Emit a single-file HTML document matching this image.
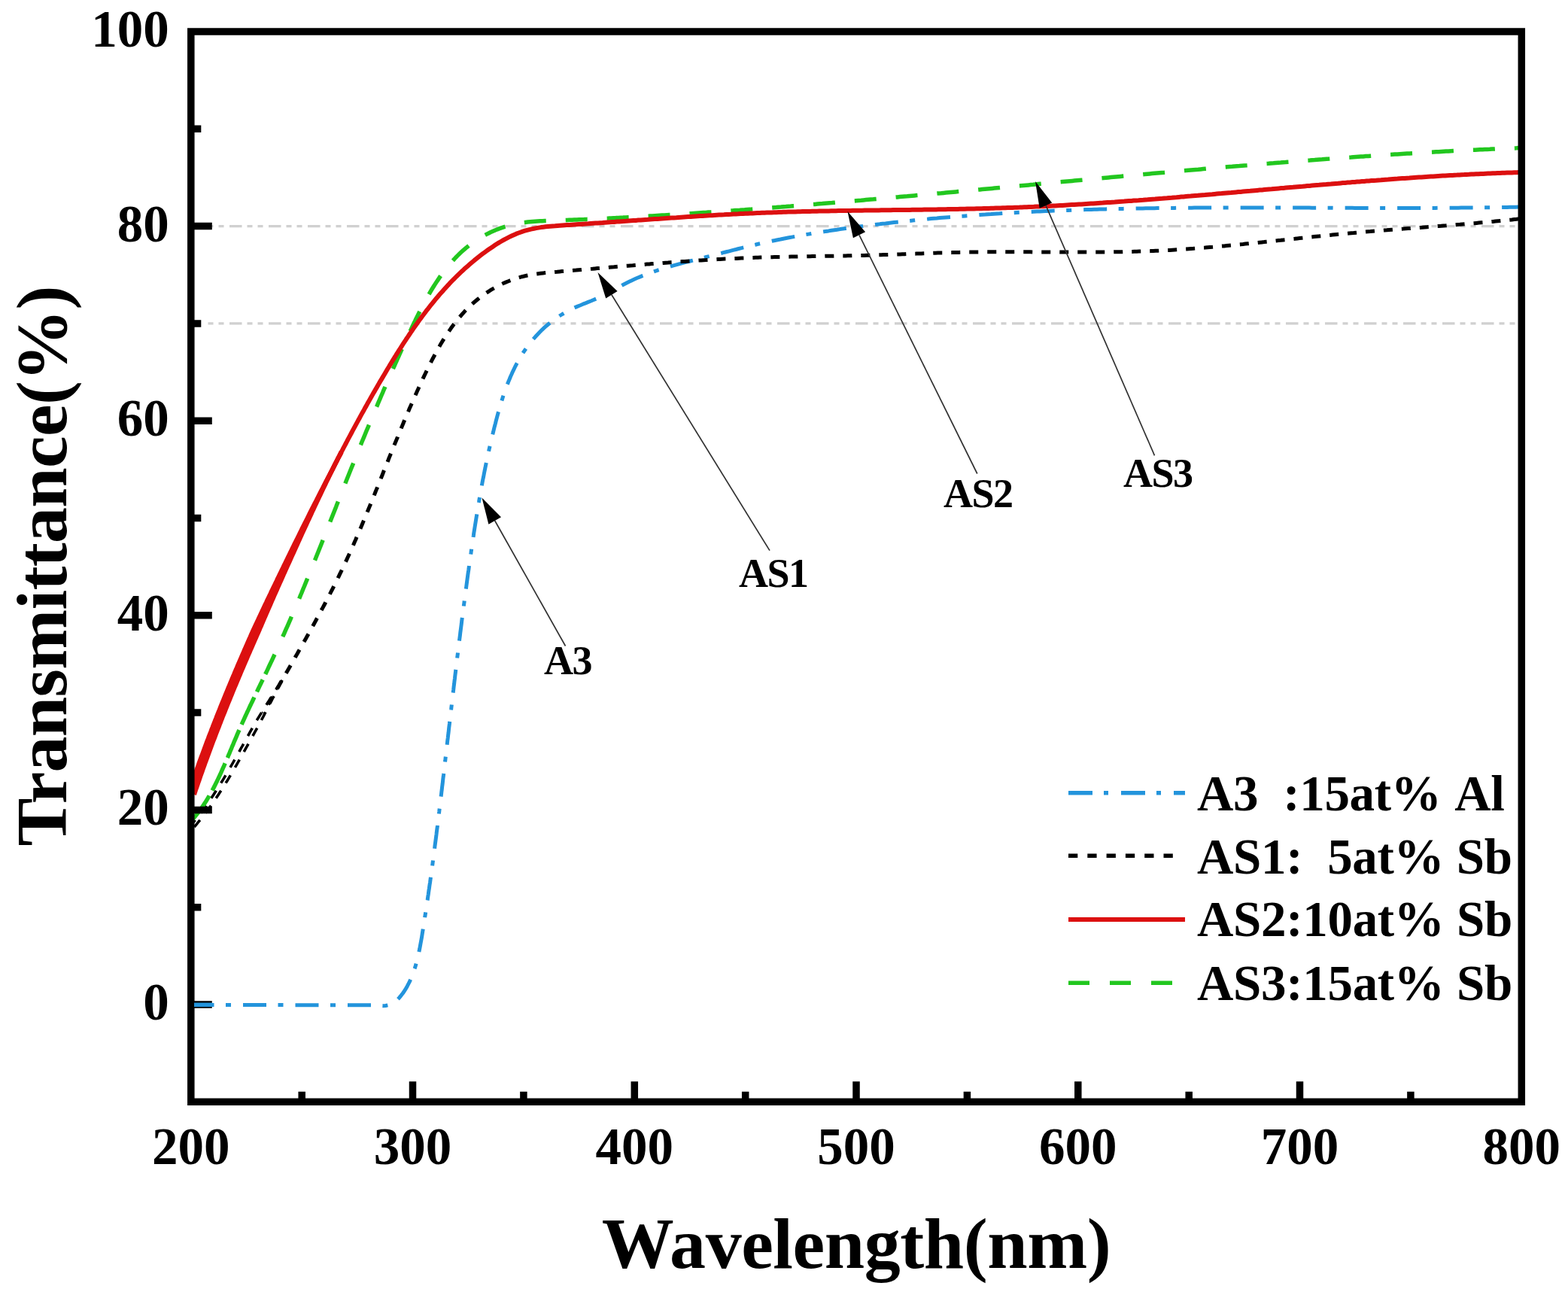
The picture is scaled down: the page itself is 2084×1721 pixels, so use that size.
<!DOCTYPE html>
<html><head><meta charset="utf-8"><title>Transmittance vs Wavelength</title>
<style>
html,body{margin:0;padding:0;background:#fff;}
body{width:2084px;height:1721px;overflow:hidden;}
svg{display:block;}
text{font-family:"Liberation Serif","Times New Roman",serif;font-weight:bold;fill:#000;}
.tl{font-size:69px;}
.at{font-size:96px;}
.lg{font-size:67px;letter-spacing:-0.3px;}
.an{font-size:54px;letter-spacing:-1.5px;}
</style></head>
<body>
<svg width="2084" height="1721" viewBox="0 0 2084 1721">
<rect width="2084" height="1721" fill="#fff"/>
<line x1="270" y1="300.6" x2="2018" y2="300.6" stroke="#d0d0d0" stroke-width="3.2" stroke-dasharray="16.5 7 7 7 7 7.5" stroke-dashoffset="17"/>
<line x1="270" y1="429.9" x2="2018" y2="429.9" stroke="#d0d0d0" stroke-width="3.2" stroke-dasharray="16.5 7 7 7 7 7.5" stroke-dashoffset="17"/>
<defs><clipPath id="pa"><rect x="254" y="41" width="1768" height="1422"/></clipPath></defs><g clip-path="url(#pa)">
<path d="M254.0,1335.4L500.0,1335.8L500.0,1335.8 504.5,1336.6 508.6,1336.8 512.5,1336.5 516.1,1335.7 519.5,1334.4 522.6,1332.8 525.5,1330.7 528.2,1328.4 530.7,1325.9 533.0,1323.1 535.2,1320.2 537.3,1317.2 539.3,1314.1 541.1,1310.9 542.8,1307.7 544.5,1304.4 546.0,1301.0 547.4,1297.6 548.8,1294.2 550.0,1290.6 551.2,1287.1 552.3,1283.5 553.3,1279.8 554.3,1276.1 555.2,1272.4 556.1,1268.6 556.9,1264.9 557.7,1261.1 558.4,1257.3 559.1,1253.4 559.8,1249.6 560.5,1245.7 561.1,1241.9 561.7,1238.0 562.3,1234.2 563.0,1230.3 563.6,1226.5 564.2,1222.7 564.7,1218.8 565.3,1215.0 565.9,1211.2 566.5,1207.4 567.1,1203.6 567.6,1199.7 568.2,1195.9 568.7,1192.1 569.3,1188.3 569.8,1184.5 570.4,1180.7 570.9,1176.9 571.5,1173.1 572.0,1169.4 572.5,1165.6 573.0,1161.8 573.6,1158.0 574.1,1154.2 574.6,1150.5 575.1,1146.7 575.6,1142.9 576.1,1139.1 576.6,1135.4 577.1,1131.6 577.6,1127.8 578.0,1124.1 578.5,1120.3 579.0,1116.6 579.5,1112.8 580.0,1109.0 580.4,1105.3 580.9,1101.5 581.4,1097.8 581.8,1094.0 582.3,1090.2 582.8,1086.5 583.2,1082.7 583.7,1079.0 584.1,1075.2 584.6,1071.5 585.0,1067.7 585.5,1063.9 585.9,1060.2 586.4,1056.4 586.8,1052.7 587.3,1048.9 587.7,1045.1 588.2,1041.4 588.6,1037.6 589.0,1033.8 589.5,1030.1 589.9,1026.3 590.4,1022.5 590.8,1018.8 591.2,1015.0 591.7,1011.2 592.1,1007.4 592.6,1003.6 593.0,999.9 593.4,996.1 593.9,992.3 594.3,988.5 594.7,984.7 595.2,981.0 595.6,977.2 596.1,973.4 596.5,969.6 596.9,965.8 597.4,962.0 597.8,958.2 598.3,954.4 598.7,950.6 599.1,946.8 599.6,943.1 600.0,939.3 600.5,935.5 600.9,931.7 601.3,927.9 601.8,924.1 602.2,920.3 602.7,916.5 603.1,912.7 603.6,908.9 604.0,905.1 604.5,901.3 604.9,897.5 605.4,893.7 605.8,889.9 606.3,886.1 606.7,882.3 607.2,878.5 607.6,874.7 608.1,870.9 608.6,867.1 609.0,863.3 609.5,859.5 610.0,855.7 610.4,852.0 610.9,848.2 611.4,844.4 611.8,840.6 612.3,836.8 612.8,833.0 613.3,829.2 613.7,825.4 614.2,821.6 614.7,817.8 615.2,814.0 615.7,810.2 616.2,806.5 616.7,802.7 617.2,798.9 617.6,795.1 618.1,791.3 618.6,787.5 619.2,783.7 619.7,780.0 620.2,776.2 620.7,772.4 621.2,768.6 621.7,764.9 622.2,761.1 622.8,757.3 623.3,753.5 623.8,749.8 624.3,746.0 624.9,742.2 625.4,738.5 626.0,734.7 626.5,730.9 627.0,727.2 627.6,723.4 628.1,719.7 628.7,715.9 629.3,712.1 629.8,708.4 630.4,704.6 631.0,700.9 631.6,697.1 632.2,693.4 632.8,689.6 633.4,685.9 634.0,682.1 634.6,678.4 635.2,674.7 635.8,670.9 636.5,667.2 637.1,663.4 637.8,659.7 638.4,656.0 639.1,652.2 639.8,648.5 640.4,644.8 641.1,641.0 641.8,637.3 642.6,633.6 643.3,629.8 644.0,626.1 644.8,622.4 645.5,618.7 646.3,614.9 647.1,611.2 647.9,607.5 648.7,603.7 649.5,600.0 650.3,596.3 651.2,592.6 652.0,588.8 652.9,585.1 653.8,581.4 654.6,577.7 655.6,574.0 656.5,570.2 657.4,566.5 658.4,562.8 659.3,559.1 660.3,555.3 661.3,551.6 662.3,547.9 663.4,544.2 664.5,540.5 665.6,536.8 666.7,533.1 667.8,529.5 669.0,525.8 670.2,522.2 671.5,518.5 672.8,514.9 674.1,511.4 675.5,507.8 677.0,504.3 678.4,500.8 680.0,497.3 681.5,493.8 683.2,490.4 684.8,487.0 686.6,483.6 688.4,480.3 690.2,477.0 692.2,473.8 694.1,470.6 696.2,467.4 698.3,464.3 700.5,461.2 702.8,458.1 705.1,455.1 707.5,452.2 710.0,449.3 712.5,446.5 715.1,443.7 717.7,441.0 720.4,438.3 723.2,435.7 726.0,433.2 728.9,430.8 731.8,428.4 734.8,426.0 737.9,423.8 741.0,421.6 744.2,419.5 747.4,417.5 750.6,415.6 753.9,413.7 757.3,411.9 760.7,410.2 764.2,408.6 767.7,407.1 771.2,405.7 774.7,404.2 778.3,402.8 781.8,401.4 785.4,400.0 788.9,398.5 792.4,397.0 795.9,395.4 799.3,393.7 802.7,392.0 806.1,390.3 809.4,388.5 812.8,386.7 816.1,384.9 819.5,383.1 822.8,381.3 826.2,379.5 829.5,377.7 832.9,376.0 836.3,374.3 839.7,372.7 843.2,371.1 846.6,369.5 850.1,368.1 853.6,366.6 857.2,365.3 860.7,363.9 864.3,362.6 867.8,361.4 871.4,360.1 875.0,358.9 878.7,357.8 882.3,356.6 885.9,355.5 889.6,354.5 893.3,353.4 896.9,352.4 900.6,351.4 904.3,350.4 908.0,349.4 911.7,348.4 915.4,347.5 919.1,346.5 922.8,345.6 926.5,344.7 930.2,343.7 933.9,342.8 937.6,341.8 941.3,340.9 945.0,340.0 948.7,339.0 952.3,338.1 956.0,337.1 959.7,336.2 963.4,335.2 967.1,334.3 970.8,333.3 974.4,332.4 978.1,331.5 981.8,330.5 985.5,329.6 989.2,328.7 992.8,327.8 996.5,326.9 1000.2,326.0 1003.9,325.2 1007.6,324.3 1011.3,323.5 1015.0,322.6 1018.8,321.8 1022.5,321.0 1026.2,320.2 1029.9,319.5 1033.6,318.7 1037.4,318.0 1041.1,317.2 1044.8,316.5 1048.6,315.8 1052.3,315.1 1056.1,314.4 1059.8,313.7 1063.6,313.0 1067.3,312.4 1071.1,311.7 1074.8,311.1 1078.6,310.4 1082.4,309.8 1086.1,309.2 1089.9,308.6 1093.7,308.0 1097.4,307.4 1101.2,306.9 1105.0,306.3 1108.8,305.7 1112.5,305.2 1116.3,304.6 1120.1,304.1 1123.9,303.6 1127.7,303.1 1131.5,302.5 1135.2,302.0 1139.0,301.5 1142.8,301.0 1146.6,300.6 1150.4,300.1 1154.2,299.6 1157.9,299.1 1161.7,298.7 1165.5,298.2 1169.3,297.8 1173.1,297.3 1176.9,296.9 1180.7,296.4 1184.5,296.0 1188.2,295.6 1192.0,295.2 1195.8,294.8 1199.6,294.4 1203.4,294.0 1207.2,293.6 1211.0,293.2 1214.8,292.8 1218.6,292.4 1222.4,292.1 1226.2,291.7 1229.9,291.3 1233.7,291.0 1237.5,290.6 1241.3,290.3 1245.1,290.0 1248.9,289.6 1252.7,289.3 1256.5,289.0 1260.3,288.7 1264.1,288.4 1267.9,288.0 1271.7,287.7 1275.5,287.4 1279.3,287.2 1283.1,286.9 1286.9,286.6 1290.7,286.3 1294.5,286.0 1298.3,285.8 1302.1,285.5 1305.9,285.2 1309.7,285.0 1313.5,284.7 1317.3,284.5 1321.1,284.2 1324.9,284.0 1328.7,283.8 1332.5,283.5 1336.3,283.3 1340.1,283.1 1343.9,282.9 1347.7,282.7 1351.5,282.5 1355.3,282.3 1359.1,282.1 1362.9,281.9 1366.7,281.7 1370.5,281.5 1374.3,281.3 1378.1,281.1 1381.9,281.0 1385.7,280.8 1389.5,280.6 1393.3,280.5 1397.1,280.3 1400.9,280.1 1404.7,280.0 1408.5,279.8 1412.3,279.7 1416.1,279.5 1419.9,279.4 1423.7,279.3 1427.5,279.1 1431.3,279.0 1435.2,278.9 1439.0,278.8 1442.8,278.6 1446.6,278.5 1450.4,278.4 1454.2,278.3 1458.0,278.2 1461.8,278.1 1465.6,278.0 1469.4,277.9 1473.2,277.8 1477.0,277.7 1480.8,277.6 1484.6,277.5 1488.5,277.5 1492.3,277.4 1496.1,277.3 1499.9,277.2 1503.7,277.2 1507.5,277.1 1511.3,277.0 1515.1,277.0 1518.9,276.9 1522.7,276.8 1526.5,276.8 1530.4,276.7 1534.2,276.7 1538.0,276.6 1541.8,276.6 1545.6,276.5 1549.4,276.5 1553.2,276.4 1557.0,276.4 1560.8,276.4 1564.7,276.3 1568.5,276.3 1572.3,276.2 1576.1,276.2 1579.9,276.2 1583.7,276.2 1587.5,276.1 1591.3,276.1 1595.1,276.1 1599.0,276.1 1602.8,276.1 1606.6,276.0 1610.4,276.0 1614.2,276.0 1618.0,276.0 1621.8,276.0 1625.6,276.0 1629.5,276.0 1633.3,276.0 1637.1,276.0 1640.9,276.0 1644.7,275.9 1648.5,275.9 1652.3,275.9 1656.1,275.9 1660.0,275.9 1663.8,275.9 1667.6,276.0 1671.4,276.0 1675.2,276.0 1679.0,276.0 1682.8,276.0 1686.6,276.0 1690.5,276.0 1694.3,276.0 1698.1,276.0 1701.9,276.0 1705.7,276.0 1709.5,276.0 1713.3,276.0 1717.1,276.1 1721.0,276.1 1724.8,276.1 1728.6,276.1 1732.4,276.1 1736.2,276.1 1740.0,276.1 1743.8,276.2 1747.7,276.2 1751.5,276.2 1755.3,276.2 1759.1,276.2 1762.9,276.2 1766.7,276.2 1770.5,276.2 1774.3,276.3 1778.2,276.3 1782.0,276.3 1785.8,276.3 1789.6,276.3 1793.4,276.3 1797.2,276.3 1801.0,276.4 1804.8,276.4 1808.7,276.4 1812.5,276.4 1816.3,276.4 1820.1,276.4 1823.9,276.4 1827.7,276.4 1831.5,276.4 1835.3,276.4 1839.2,276.4 1843.0,276.4 1846.8,276.4 1850.6,276.4 1854.4,276.5 1858.2,276.5 1862.0,276.5 1865.8,276.4 1869.6,276.4 1873.5,276.4 1877.3,276.4 1881.1,276.4 1884.9,276.4 1888.7,276.4 1892.5,276.4 1896.3,276.4 1900.1,276.4 1903.9,276.4 1907.8,276.4 1911.6,276.3 1915.4,276.3 1919.2,276.3 1923.0,276.3 1926.8,276.3 1930.6,276.2 1934.4,276.2 1938.2,276.2 1942.0,276.1 1945.9,276.1 1949.7,276.1 1953.5,276.0 1957.3,276.0 1961.1,276.0 1964.9,275.9 1968.7,275.9 1972.5,275.8 1976.3,275.8 1980.1,275.7 1983.9,275.7 1987.7,275.6 1991.5,275.6 1995.4,275.5 1999.2,275.4 2003.0,275.4 2006.8,275.3 2010.6,275.2 2014.4,275.2 2018.2,275.1 2022.0,275.0" fill="none" stroke="#2394dc" stroke-width="5" stroke-dasharray="31 15.5 7 16" stroke-dashoffset="0.5" stroke-linejoin="round"/>
<path d="M349.7,947.7L351.3,944.9 352.9,942.2 354.4,939.5 356.0,936.7 357.6,934.0 359.1,931.3 360.7,928.5 362.3,925.8 363.9,923.1 365.4,920.3 367.0,917.6 368.6,914.8 370.2,912.1 371.7,909.4 373.3,906.6 374.9,903.9 376.5,901.2 378.1,898.4 379.6,895.7 381.2,893.0 382.8,890.2 384.4,887.5 386.0,884.7 387.5,882.0 389.1,879.3 390.7,876.5 392.2,873.8 393.8,871.0 395.4,868.3 396.9,865.5 398.5,862.8 400.1,860.0 401.6,857.3 403.2,854.6 404.7,851.8 406.3,849.0 407.8,846.3 409.4,843.5 410.9,840.8 412.4,838.0 414.0,835.3 415.5,832.5 417.0,829.7 418.5,827.0 420.0,824.2 421.5,821.4 423.0,818.7 424.5,815.9 426.0,813.1 427.5,810.3 429.0,807.6 430.5,804.8 432.0,802.0 433.4,799.2 434.9,796.4 436.3,793.6 437.8,790.8 439.2,788.0 440.6,785.2 442.1,782.4 443.5,779.6 444.9,776.8 446.3,774.0 447.7,771.2 449.1,768.4 450.4,765.6 451.8,762.7 453.2,759.9 454.5,757.1 455.9,754.2 457.2,751.4 458.5,748.6 459.9,745.7 461.2,742.9 462.5,740.0 463.8,737.2 465.1,734.3 466.4,731.5 467.6,728.6 468.9,725.8 470.2,722.9 471.4,720.0 472.7,717.2 473.9,714.3 475.2,711.4 476.4,708.5 477.6,705.7 478.9,702.8 480.1,699.9 481.3,697.0 482.5,694.1 483.7,691.2 484.9,688.3 486.1,685.5 487.3,682.6 488.5,679.7 489.7,676.8 490.9,673.9 492.1,671.0 493.3,668.1 494.4,665.2 495.6,662.3 496.8,659.4 498.0,656.4 499.1,653.5 500.3,650.6 501.5,647.7 502.6,644.8 503.8,641.9 505.0,639.0 506.1,636.1 507.3,633.2 508.5,630.2 509.6,627.3 510.8,624.4 512.0,621.5 513.1,618.6 514.3,615.7 515.5,612.8 516.6,609.8 517.8,606.9 519.0,604.0 520.2,601.1 521.3,598.2 522.5,595.2 523.7,592.3 524.9,589.4 526.1,586.5 527.3,583.6 528.5,580.7 529.6,577.7 530.8,574.8 532.1,571.9 533.3,569.0 534.5,566.1 535.7,563.2 536.9,560.3 538.1,557.4 539.4,554.4 540.6,551.5 541.8,548.6 543.1,545.7 544.3,542.8 545.6,539.9 546.9,537.0 548.1,534.1 549.4,531.2 550.7,528.3 552.0,525.4 553.3,522.5 554.6,519.6 555.9,516.7 557.2,513.8 558.5,510.9 559.9,508.0 561.2,505.2 562.5,502.3 563.9,499.4 565.3,496.5 566.7,493.6 568.0,490.8 569.5,487.9 570.9,485.1 572.3,482.2 573.7,479.4 575.2,476.5 576.7,473.7 578.2,470.9 579.7,468.1 581.2,465.4 582.8,462.6 584.3,459.9 585.9,457.1 587.5,454.4 589.2,451.7 590.8,449.1 592.5,446.4 594.2,443.8 596.0,441.2 597.8,438.6 599.5,436.1 601.4,433.5 603.2,431.0 605.1,428.6 607.0,426.1 609.0,423.7 611.0,421.3 613.0,419.0 615.0,416.7 617.1,414.4 619.2,412.1 621.4,409.9 623.6,407.8 625.8,405.6 628.1,403.5 630.4,401.5 632.8,399.5 635.2,397.5 637.6,395.5 640.1,393.7 642.6,391.8 645.2,390.0 647.8,388.3 650.5,386.6 653.1,384.9 655.9,383.3 658.6,381.8 661.4,380.3 664.2,378.8 667.1,377.5 669.9,376.1 672.8,374.9 675.8,373.7 678.7,372.5 681.7,371.4 684.7,370.4 687.7,369.5 690.7,368.6 693.7,367.7 696.8,367.0 699.9,366.3 702.9,365.7 706.0,365.1 709.1,364.6 712.2,364.1 715.4,363.7 718.5,363.3 721.6,362.9 724.8,362.6 727.9,362.3 731.1,362.0 734.2,361.7 737.4,361.4 740.5,361.2 743.7,360.9 746.8,360.6 749.9,360.4 753.1,360.1 756.2,359.9 759.4,359.6 762.5,359.3 765.7,359.1 768.8,358.8 772.0,358.5 775.1,358.2 778.2,358.0 781.4,357.7 784.5,357.4 787.6,357.2 790.8,356.9 793.9,356.6 797.1,356.4 800.2,356.1 803.3,355.8 806.5,355.6 809.6,355.3 812.7,355.0 815.9,354.8 819.0,354.5 822.1,354.2 825.3,354.0 828.4,353.7 831.5,353.4 834.7,353.2 837.8,352.9 840.9,352.7 844.1,352.4 847.2,352.1 850.3,351.9 853.5,351.6 856.6,351.4 859.7,351.1 862.9,350.9 866.0,350.6 869.1,350.4 872.3,350.1 875.4,349.9 878.5,349.7 881.7,349.4 884.8,349.2 887.9,349.0 891.1,348.7 894.2,348.5 897.3,348.3 900.5,348.0 903.6,347.8 906.8,347.6 909.9,347.4 913.0,347.2 916.2,347.0 919.3,346.8 922.5,346.5 925.6,346.3 928.7,346.1 931.9,345.9 935.0,345.7 938.2,345.6 941.3,345.4 944.4,345.2 947.6,345.0 950.7,344.8 953.9,344.6 957.0,344.5 960.1,344.3 963.3,344.1 966.4,344.0 969.6,343.8 972.7,343.7 975.9,343.5 979.0,343.4 982.2,343.2 985.3,343.1 988.4,343.0 991.6,342.8 994.7,342.7 997.9,342.6 1001.0,342.5 1004.2,342.3 1007.3,342.2 1010.5,342.1 1013.6,342.0 1016.8,341.9 1019.9,341.8 1023.0,341.8 1026.2,341.7 1029.3,341.6 1032.5,341.5 1035.6,341.4 1038.8,341.4 1041.9,341.3 1045.1,341.2 1048.2,341.2 1051.4,341.1 1054.5,341.0 1057.7,341.0 1060.8,340.9 1064.0,340.9 1067.1,340.8 1070.3,340.8 1073.4,340.7 1076.6,340.7 1079.7,340.6 1082.8,340.6 1086.0,340.5 1089.1,340.5 1092.3,340.4 1095.4,340.4 1098.6,340.3 1101.7,340.3 1104.9,340.2 1108.0,340.2 1111.2,340.1 1114.3,340.1 1117.5,340.0 1120.6,340.0 1123.8,339.9 1126.9,339.8 1130.1,339.8 1133.2,339.7 1136.4,339.6 1139.5,339.6 1142.6,339.5 1145.8,339.4 1148.9,339.4 1152.1,339.3 1155.2,339.2 1158.4,339.1 1161.5,339.0 1164.7,338.9 1167.8,338.8 1171.0,338.7 1174.1,338.6 1177.2,338.5 1180.4,338.4 1183.5,338.3 1186.7,338.2 1189.8,338.1 1193.0,338.0 1196.1,337.9 1199.3,337.8 1202.4,337.7 1205.5,337.5 1208.7,337.4 1211.8,337.3 1215.0,337.2 1218.1,337.1 1221.3,337.0 1224.4,336.9 1227.6,336.8 1230.7,336.7 1233.8,336.6 1237.0,336.4 1240.1,336.3 1243.3,336.2 1246.4,336.1 1249.6,336.0 1252.7,336.0 1255.9,335.9 1259.0,335.8 1262.1,335.7 1265.3,335.6 1268.4,335.5 1271.6,335.4 1274.7,335.4 1277.9,335.3 1281.0,335.2 1284.2,335.2 1287.3,335.1 1290.5,335.1 1293.6,335.0 1296.8,335.0 1299.9,334.9 1303.0,334.9 1306.2,334.9 1309.3,334.8 1312.5,334.8 1315.6,334.8 1318.8,334.8 1321.9,334.8 1325.1,334.8 1328.2,334.8 1331.4,334.7 1334.5,334.7 1337.7,334.7 1340.8,334.7 1344.0,334.7 1347.1,334.8 1350.3,334.8 1353.4,334.8 1356.6,334.8 1359.7,334.8 1362.9,334.8 1366.0,334.8 1369.2,334.8 1372.3,334.9 1375.5,334.9 1378.6,334.9 1381.8,334.9 1384.9,334.9 1388.1,334.9 1391.2,335.0 1394.4,335.0 1397.5,335.0 1400.6,335.0 1403.8,335.0 1406.9,335.0 1410.1,335.1 1413.2,335.1 1416.4,335.1 1419.5,335.1 1422.7,335.1 1425.8,335.1 1429.0,335.1 1432.1,335.1 1435.3,335.1 1438.4,335.1 1441.6,335.1 1444.7,335.1 1447.9,335.1 1451.0,335.1 1454.2,335.1 1457.3,335.1 1460.5,335.1 1463.6,335.0 1466.8,335.0 1469.9,335.0 1473.1,335.0 1476.2,334.9 1479.3,334.9 1482.5,334.8 1485.6,334.8 1488.8,334.7 1491.9,334.7 1495.1,334.6 1498.2,334.6 1501.4,334.5 1504.5,334.4 1507.7,334.3 1510.8,334.2 1513.9,334.1 1517.1,334.0 1520.2,333.9 1523.4,333.8 1526.5,333.7 1529.7,333.6 1532.8,333.5 1535.9,333.3 1539.1,333.2 1542.2,333.0 1545.4,332.9 1548.5,332.7 1551.6,332.5 1554.8,332.4 1557.9,332.2 1561.1,332.0 1564.2,331.8 1567.3,331.6 1570.5,331.4 1573.6,331.2 1576.8,331.0 1579.9,330.7 1583.0,330.5 1586.2,330.3 1589.3,330.0 1592.5,329.8 1595.6,329.6 1598.7,329.3 1601.9,329.1 1605.0,328.8 1608.1,328.5 1611.3,328.3 1614.4,328.0 1617.6,327.7 1620.7,327.4 1623.8,327.1 1627.0,326.9 1630.1,326.6 1633.2,326.3 1636.4,326.0 1639.5,325.7 1642.6,325.4 1645.8,325.1 1648.9,324.8 1652.0,324.5 1655.2,324.1 1658.3,323.8 1661.4,323.5 1664.6,323.2 1667.7,322.9 1670.8,322.6 1674.0,322.2 1677.1,321.9 1680.3,321.6 1683.4,321.2 1686.5,320.9 1689.7,320.6 1692.8,320.3 1695.9,319.9 1699.1,319.6 1702.2,319.3 1705.3,318.9 1708.5,318.6 1711.6,318.3 1714.7,317.9 1717.9,317.6 1721.0,317.3 1724.1,316.9 1727.3,316.6 1730.4,316.3 1733.5,316.0 1736.7,315.6 1739.8,315.3 1742.9,315.0 1746.1,314.6 1749.2,314.3 1752.3,314.0 1755.5,313.7 1758.6,313.4 1761.7,313.1 1764.9,312.7 1768.0,312.4 1771.1,312.1 1774.3,311.8 1777.4,311.5 1780.5,311.2 1783.7,310.9 1786.8,310.6 1789.9,310.3 1793.1,310.0 1796.2,309.7 1799.3,309.5 1802.5,309.2 1805.6,308.9 1808.8,308.6 1811.9,308.4 1815.0,308.1 1818.2,307.8 1821.3,307.6 1824.4,307.3 1827.6,307.0 1830.7,306.8 1833.8,306.5 1837.0,306.3 1840.1,306.0 1843.2,305.8 1846.4,305.5 1849.5,305.3 1852.7,305.1 1855.8,304.8 1858.9,304.6 1862.1,304.3 1865.2,304.1 1868.3,303.8 1871.5,303.6 1874.6,303.4 1877.7,303.1 1880.9,302.9 1884.0,302.7 1887.2,302.4 1890.3,302.2 1893.4,301.9 1896.6,301.7 1899.7,301.5 1902.8,301.2 1906.0,301.0 1909.1,300.7 1912.3,300.5 1915.4,300.3 1918.5,300.0 1921.7,299.8 1924.8,299.5 1927.9,299.3 1931.1,299.0 1934.2,298.8 1937.3,298.5 1940.5,298.3 1943.6,298.0 1946.8,297.7 1949.9,297.5 1953.0,297.2 1956.2,296.9 1959.3,296.7 1962.4,296.4 1965.6,296.1 1968.7,295.8 1971.8,295.6 1975.0,295.3 1978.1,295.0 1981.3,294.7 1984.4,294.4 1987.5,294.1 1990.7,293.8 1993.8,293.5 1996.9,293.2 2000.1,292.8 2003.2,292.5 2006.3,292.2 2009.5,291.9 2012.6,291.5 2015.7,291.2 2018.9,290.8 2022.0,290.5" fill="none" stroke="#000" stroke-width="5" stroke-dasharray="12 12" stroke-dashoffset="10.85" stroke-linejoin="round"/>
<path d="M251.8,1099.0L253.9,1096.6 255.9,1094.2 257.9,1091.7 259.9,1089.3 261.9,1086.8 263.8,1084.3 265.7,1081.8 267.6,1079.3 269.5,1076.8 271.3,1074.3 273.2,1071.7 275.0,1069.2 276.8,1066.6 278.6,1064.0 280.3,1061.4 282.1,1058.8 283.8,1056.2 285.5,1053.6 287.2,1051.0 288.9,1048.4 290.5,1045.7 292.2,1043.1 293.8,1040.4 295.5,1037.7 297.1,1035.1 298.7,1032.4 300.3,1029.7 301.9,1027.0 303.5,1024.3 305.0,1021.6 306.6,1018.9 308.2,1016.2 309.7,1013.5 311.3,1010.7 312.8,1008.0 314.3,1005.3 315.9,1002.5 317.4,999.8 318.9,997.1 320.4,994.3 322.0,991.6 323.5,988.8 325.0,986.1 326.5,983.4 328.0,980.6 329.6,977.9 331.1,975.1 332.6,972.4 334.2,969.6 335.7,966.9 337.2,964.1 338.8,961.4 340.4,958.6 342.1,955.9 343.8,953.2 345.5,950.4 347.2,947.7 348.9,944.9 350.6,942.2 352.3,939.5 354.0,936.7 355.7,934.0 357.5,931.3 359.2,928.5 360.9,925.8 362.6,923.1 364.3,920.3 366.1,917.6 367.8,914.8 369.5,912.1 371.2,909.4 373.0,906.6 374.7,903.9 376.4,901.2 378.1,898.4" fill="none" stroke="#000" stroke-width="3.6" stroke-dasharray="12 12" stroke-linejoin="round"/>
<path d="M258.2,1099.0L260.3,1096.6 262.3,1094.2 264.3,1091.7 266.3,1089.3 268.3,1086.8 270.2,1084.3 272.1,1081.8 274.0,1079.3 275.9,1076.8 277.7,1074.3 279.6,1071.7 281.4,1069.2 283.2,1066.6 285.0,1064.0 286.7,1061.4 288.5,1058.8 290.2,1056.2 291.9,1053.6 293.6,1051.0 295.3,1048.4 296.9,1045.7 298.6,1043.1 300.2,1040.4 301.9,1037.7 303.5,1035.1 305.1,1032.4 306.7,1029.7 308.3,1027.0 309.9,1024.3 311.4,1021.6 313.0,1018.9 314.6,1016.2 316.1,1013.5 317.7,1010.7 319.2,1008.0 320.7,1005.3 322.3,1002.5 323.8,999.8 325.3,997.1 326.8,994.3 328.4,991.6 329.9,988.8 331.4,986.1 332.9,983.4 334.4,980.6 336.0,977.9 337.5,975.1 339.0,972.4 340.6,969.6 342.1,966.9 343.6,964.1 345.2,961.4 346.6,958.6 348.0,955.9 349.5,953.2 350.9,950.4 352.3,947.7 353.7,944.9 355.1,942.2 356.5,939.5 357.9,936.7 359.4,934.0 360.8,931.3 362.2,928.5 363.7,925.8 365.1,923.1 366.5,920.3 367.9,917.6 369.4,914.8 370.8,912.1 372.2,909.4 373.7,906.6 375.1,903.9 376.5,901.2 378.1,898.4" fill="none" stroke="#000" stroke-width="3.6" stroke-dasharray="12 12" stroke-linejoin="round"/>
<path d="M255.0,1090.0L257.2,1087.6 259.3,1085.1 261.3,1082.6 263.3,1080.1 265.2,1077.5 267.1,1074.9 268.9,1072.2 270.7,1069.6 272.5,1066.9 274.2,1064.2 275.9,1061.4 277.5,1058.7 279.1,1055.9 280.7,1053.1 282.2,1050.3 283.7,1047.4 285.2,1044.6 286.6,1041.7 288.1,1038.8 289.5,1035.9 290.9,1033.0 292.2,1030.1 293.6,1027.1 294.9,1024.2 296.2,1021.2 297.6,1018.2 298.8,1015.3 300.1,1012.3 301.4,1009.3 302.7,1006.3 303.9,1003.3 305.2,1000.3 306.4,997.3 307.7,994.3 308.9,991.3 310.2,988.3 311.4,985.3 312.7,982.3 314.0,979.3 315.2,976.4 316.5,973.4 317.8,970.4 319.1,967.4 320.4,964.5 321.7,961.5 323.0,958.6 324.4,955.6 325.7,952.7 327.1,949.7 328.4,946.8 329.8,943.9 331.1,941.0 332.5,938.0 333.9,935.1 335.3,932.2 336.7,929.3 338.0,926.4 339.4,923.5 340.8,920.6 342.2,917.7 343.6,914.8 345.0,911.9 346.4,909.0 347.8,906.1 349.2,903.2" fill="none" stroke="#22c71f" stroke-width="5.5" stroke-dasharray="40 8" stroke-linejoin="round"/>
<path d="M349.2,903.2L350.6,900.3 352.0,897.4 353.4,894.5 354.8,891.6 356.2,888.6 357.5,885.7 358.9,882.8 360.3,879.9 361.7,877.0 363.0,874.1 364.4,871.1 365.8,868.2 367.1,865.3 368.5,862.3 369.8,859.4 371.1,856.4 372.5,853.5 373.8,850.5 375.1,847.6 376.4,844.6 377.8,841.7 379.1,838.7 380.4,835.7 381.7,832.8 383.0,829.8 384.3,826.8 385.6,823.9 386.8,820.9 388.1,817.9 389.4,814.9 390.7,811.9 391.9,808.9 393.2,806.0 394.5,803.0 395.7,800.0 397.0,797.0 398.3,794.0 399.5,791.0 400.8,788.0 402.0,785.0 403.2,782.0 404.5,779.0 405.7,776.0 406.9,773.0 408.2,769.9 409.4,766.9 410.6,763.9 411.9,760.9 413.1,757.9 414.3,754.9 415.5,751.9 416.7,748.8 417.9,745.8 419.2,742.8 420.4,739.8 421.6,736.8 422.8,733.8 424.0,730.7 425.2,727.7 426.4,724.7 427.6,721.7 428.8,718.7 430.0,715.6 431.2,712.6 432.4,709.6 433.6,706.6 434.8,703.6 436.0,700.5 437.1,697.5 438.3,694.5 439.5,691.5 440.7,688.5 441.9,685.4 443.1,682.4 444.3,679.4 445.5,676.4 446.7,673.4 447.8,670.4 449.0,667.4 450.2,664.3 451.4,661.3 452.6,658.3 453.8,655.3 455.0,652.3 456.2,649.3 457.3,646.3 458.5,643.3 459.7,640.3 460.9,637.3 462.1,634.3 463.3,631.3 464.5,628.3 465.7,625.3 466.9,622.3 468.1,619.4 469.3,616.4 470.5,613.4 471.7,610.4 472.9,607.4 474.1,604.5 475.3,601.5 476.5,598.5 477.7,595.5 478.9,592.6 480.1,589.6 481.3,586.6 482.5,583.7 483.8,580.7 485.0,577.8 486.2,574.8 487.4,571.8 488.7,568.9 489.9,565.9 491.1,563.0 492.4,560.0 493.6,557.0 494.8,554.1 496.1,551.1 497.3,548.2 498.6,545.2 499.8,542.3 501.1,539.3 502.3,536.4 503.6,533.4 504.9,530.4 506.1,527.5 507.4,524.5 508.7,521.6 509.9,518.6 511.2,515.7 512.5,512.7 513.8,509.7 515.1,506.8 516.4,503.8 517.7,500.8 519.0,497.9 520.3,494.9 521.6,491.9 522.9,489.0 524.3,486.0 525.6,483.0 526.9,480.1 528.2,477.1 529.6,474.1 530.9,471.1 532.3,468.1 533.6,465.2 535.0,462.2 536.4,459.2 537.7,456.2 539.1,453.2 540.5,450.2 541.9,447.2 543.3,444.2 544.7,441.2 546.1,438.2 547.5,435.2 548.9,432.2 550.3,429.2 551.8,426.2 553.2,423.2 554.7,420.2 556.2,417.2 557.7,414.3 559.2,411.3 560.7,408.3 562.2,405.4 563.8,402.5 565.4,399.6 566.9,396.7 568.6,393.8 570.2,391.0 571.8,388.1 573.5,385.3 575.2,382.5 576.9,379.7 578.7,377.0 580.5,374.3 582.3,371.6 584.1,368.9 585.9,366.2 587.8,363.6 589.7,361.1 591.7,358.5 593.7,356.0 595.7,353.5 597.7,351.1 599.8,348.7 601.9,346.3 604.1,344.0 606.2,341.7 608.5,339.4 610.7,337.2 613.0,335.0 615.4,332.9 617.8,330.9 620.2,328.8 622.6,326.9 625.2,324.9 627.7,323.1 630.3,321.2 632.9,319.5 635.6,317.7 638.3,316.1 641.0,314.5 643.8,312.9 646.6,311.4 649.4,310.0 652.3,308.6 655.2,307.3 658.1,306.0 661.0,304.8 664.0,303.7 667.0,302.6 670.0,301.6 673.1,300.7 676.1,299.8 679.2,299.0 682.3,298.2 685.5,297.6 688.6,296.9 691.8,296.4 695.0,295.9 698.2,295.5 701.4,295.1 704.6,294.8 707.8,294.5 711.1,294.2 714.3,294.0 717.6,293.8 720.8,293.7 724.1,293.5 727.4,293.4 730.7,293.3 733.9,293.2 737.2,293.0 740.5,292.9 743.7,292.8 747.0,292.7 750.3,292.6 753.5,292.5 756.8,292.3 760.1,292.2 763.3,292.1 766.6,292.0 769.8,291.8 773.1,291.7 776.4,291.6 779.6,291.4 782.9,291.3 786.1,291.1 789.4,291.0 792.6,290.8 795.8,290.7 799.1,290.5 802.3,290.4 805.6,290.2 808.8,290.1 812.1,289.9 815.3,289.7 818.5,289.6 821.8,289.4 825.0,289.2 828.2,289.1 831.5,288.9 834.7,288.7 837.9,288.6 841.2,288.4 844.4,288.2 847.6,288.0 850.9,287.8 854.1,287.6 857.3,287.5 860.6,287.3 863.8,287.1 867.0,286.9 870.3,286.7 873.5,286.5 876.7,286.3 879.9,286.1 883.2,285.9 886.4,285.7 889.6,285.5 892.9,285.3 896.1,285.1 899.3,284.9 902.5,284.7 905.8,284.5 909.0,284.3 912.2,284.1 915.4,283.9 918.7,283.7 921.9,283.4 925.1,283.2 928.4,283.0 931.6,282.8 934.8,282.6 938.0,282.4 941.3,282.1 944.5,281.9 947.7,281.7 950.9,281.5 954.2,281.2 957.4,281.0 960.6,280.8 963.8,280.6 967.1,280.3 970.3,280.1 973.5,279.9 976.8,279.6 980.0,279.4 983.2,279.2 986.4,278.9 989.7,278.7 992.9,278.4 996.1,278.2 999.3,278.0 1002.6,277.7 1005.8,277.5 1009.0,277.2 1012.2,277.0 1015.5,276.7 1018.7,276.5 1021.9,276.2 1025.1,276.0 1028.4,275.7 1031.6,275.5 1034.8,275.2 1038.0,275.0 1041.3,274.7 1044.5,274.5 1047.7,274.2 1050.9,274.0 1054.2,273.7 1057.4,273.5 1060.6,273.2 1063.8,272.9 1067.1,272.7 1070.3,272.4 1073.5,272.1 1076.7,271.9 1080.0,271.6 1083.2,271.4 1086.4,271.1 1089.6,270.8 1092.9,270.6 1096.1,270.3 1099.3,270.0 1102.5,269.7 1105.8,269.5 1109.0,269.2 1112.2,268.9 1115.4,268.7 1118.7,268.4 1121.9,268.1 1125.1,267.8 1128.3,267.6 1131.6,267.3 1134.8,267.0 1138.0,266.7 1141.2,266.4 1144.5,266.2 1147.7,265.9 1150.9,265.6 1154.1,265.3 1157.3,265.0 1160.6,264.8 1163.8,264.5 1167.0,264.2 1170.2,263.9 1173.5,263.6 1176.7,263.3 1179.9,263.1 1183.1,262.8 1186.4,262.5 1189.6,262.2 1192.8,261.9 1196.0,261.6 1199.3,261.3 1202.5,261.0 1205.7,260.8 1208.9,260.5 1212.1,260.2 1215.4,259.9 1218.6,259.6 1221.8,259.3 1225.0,259.0 1228.3,258.7 1231.5,258.4 1234.7,258.1 1237.9,257.8 1241.2,257.5 1244.4,257.2 1247.6,256.9 1250.8,256.7 1254.1,256.4 1257.3,256.1 1260.5,255.8 1263.7,255.5 1266.9,255.2 1270.2,254.9 1273.4,254.6 1276.6,254.3 1279.8,254.0 1283.1,253.7 1286.3,253.4 1289.5,253.1 1292.7,252.8 1296.0,252.5 1299.2,252.2 1302.4,251.9 1305.6,251.6 1308.8,251.3 1312.1,251.0 1315.3,250.7 1318.5,250.4 1321.7,250.1 1325.0,249.8 1328.2,249.5 1331.4,249.2 1334.6,248.9 1337.9,248.6 1341.1,248.3 1344.3,248.0 1347.5,247.7 1350.7,247.4 1354.0,247.1 1357.2,246.8 1360.4,246.5 1363.6,246.2 1366.9,245.9 1370.1,245.6 1373.3,245.3 1376.5,244.9 1379.8,244.6 1383.0,244.3 1386.2,244.0 1389.4,243.7 1392.6,243.4 1395.9,243.1 1399.1,242.8 1402.3,242.5 1405.5,242.2 1408.8,241.9 1412.0,241.6 1415.2,241.3 1418.4,241.0 1421.7,240.7 1424.9,240.4 1428.1,240.1 1431.3,239.8 1434.5,239.5 1437.8,239.2 1441.0,238.9 1444.2,238.6 1447.4,238.3 1450.7,238.0 1453.9,237.7 1457.1,237.4 1460.3,237.1 1463.6,236.8 1466.8,236.5 1470.0,236.2 1473.2,235.9 1476.5,235.6 1479.7,235.3 1482.9,235.0 1486.1,234.7 1489.3,234.4 1492.6,234.1 1495.8,233.8 1499.0,233.5 1502.2,233.3 1505.5,233.0 1508.7,232.7 1511.9,232.4 1515.1,232.1 1518.4,231.8 1521.6,231.5 1524.8,231.2 1528.0,230.9 1531.3,230.6 1534.5,230.3 1537.7,230.0 1540.9,229.7 1544.2,229.4 1547.4,229.2 1550.6,228.9 1553.8,228.6 1557.1,228.3 1560.3,228.0 1563.5,227.7 1566.7,227.4 1569.9,227.1 1573.2,226.9 1576.4,226.6 1579.6,226.3 1582.8,226.0 1586.1,225.7 1589.3,225.4 1592.5,225.2 1595.7,224.9 1599.0,224.6 1602.2,224.3 1605.4,224.0 1608.6,223.8 1611.9,223.5 1615.1,223.2 1618.3,222.9 1621.5,222.6 1624.8,222.4 1628.0,222.1 1631.2,221.8 1634.4,221.5 1637.7,221.3 1640.9,221.0 1644.1,220.7 1647.3,220.5 1650.6,220.2 1653.8,219.9 1657.0,219.7 1660.3,219.4 1663.5,219.1 1666.7,218.9 1669.9,218.6 1673.2,218.3 1676.4,218.1 1679.6,217.8 1682.8,217.5 1686.1,217.3 1689.3,217.0 1692.5,216.8 1695.7,216.5 1699.0,216.2 1702.2,216.0 1705.4,215.7 1708.6,215.5 1711.9,215.2 1715.1,215.0 1718.3,214.7 1721.6,214.5 1724.8,214.2 1728.0,214.0 1731.2,213.7 1734.5,213.5 1737.7,213.2 1740.9,213.0 1744.1,212.7 1747.4,212.5 1750.6,212.2 1753.8,212.0 1757.1,211.8 1760.3,211.5 1763.5,211.3 1766.7,211.1 1770.0,210.8 1773.2,210.6 1776.4,210.3 1779.6,210.1 1782.9,209.9 1786.1,209.7 1789.3,209.4 1792.6,209.2 1795.8,209.0 1799.0,208.7 1802.2,208.5 1805.5,208.3 1808.7,208.1 1811.9,207.9 1815.2,207.6 1818.4,207.4 1821.6,207.2 1824.8,207.0 1828.1,206.8 1831.3,206.6 1834.5,206.3 1837.8,206.1 1841.0,205.9 1844.2,205.7 1847.5,205.5 1850.7,205.3 1853.9,205.1 1857.1,204.9 1860.4,204.7 1863.6,204.5 1866.8,204.3 1870.1,204.1 1873.3,203.9 1876.5,203.7 1879.8,203.5 1883.0,203.3 1886.2,203.1 1889.4,202.9 1892.7,202.8 1895.9,202.6 1899.1,202.4 1902.4,202.2 1905.6,202.0 1908.8,201.8 1912.1,201.7 1915.3,201.5 1918.5,201.3 1921.8,201.1 1925.0,201.0 1928.2,200.8 1931.5,200.6 1934.7,200.4 1937.9,200.3 1941.2,200.1 1944.4,199.9 1947.6,199.8 1950.9,199.6 1954.1,199.5 1957.3,199.3 1960.6,199.2 1963.8,199.0 1967.0,198.8 1970.3,198.7 1973.5,198.5 1976.7,198.4 1980.0,198.3 1983.2,198.1 1986.4,198.0 1989.7,197.8 1992.9,197.7 1996.1,197.5 1999.4,197.4 2002.6,197.3 2005.8,197.1 2009.1,197.0 2012.3,196.9 2015.5,196.8 2018.8,196.6 2022.0,196.5" fill="none" stroke="#22c71f" stroke-width="5.5" stroke-dasharray="29 26" stroke-dashoffset="-8" stroke-linejoin="round"/>
<path d="M254.0,1056.0L255.0,1053.0 256.0,1050.0 257.1,1047.0 258.1,1044.0 259.1,1041.0 260.2,1038.0 261.2,1035.0 262.2,1032.0 263.3,1029.0 264.4,1026.0 265.4,1023.0 266.5,1020.0 267.6,1017.0 268.6,1014.1 269.7,1011.1 270.8,1008.1 271.9,1005.1 273.0,1002.2 274.1,999.2 275.2,996.2 276.3,993.2 277.4,990.3 278.5,987.3 279.6,984.3 280.8,981.4 281.9,978.4 283.0,975.5 284.2,972.5 285.3,969.5 286.5,966.6 287.6,963.6 288.8,960.7 289.9,957.7 291.1,954.8 292.2,951.8 293.4,948.9 294.6,946.0 295.8,943.0 296.9,940.1 298.1,937.1 299.3,934.2 300.5,931.3 301.7,928.3 302.9,925.4 304.1,922.5 305.3,919.5 306.5,916.6 307.7,913.7 308.9,910.8 310.2,907.8 311.4,904.9 312.6,902.0 313.8,899.1 315.1,896.2 316.3,893.2 317.5,890.3 318.8,887.4 320.0,884.5 321.3,881.6 322.5,878.7 323.8,875.8 325.0,872.9 326.3,869.9 327.6,867.0 328.8,864.1 330.1,861.2 331.4,858.3 332.6,855.4 333.9,852.5 335.2,849.6 336.5,846.7 337.7,843.8 339.0,840.9 340.3,838.0 341.6,835.1 342.9,832.3 344.2,829.4 345.5,826.5 346.8,823.6 348.1,820.7 349.4,817.8 350.7,814.9 352.0,812.0 353.3,809.1 354.6,806.3 355.9,803.4 357.3,800.5 358.6,797.6 359.9,794.7 361.2,791.8 362.5,789.0 363.9,786.1 365.2,783.2 366.5,780.3 367.9,777.5 369.2,774.6 370.5,771.7 371.9,768.8 373.2,766.0 374.5,763.1 375.9,760.2 377.2,757.3 378.6,754.5 379.9,751.6 381.2,748.7 382.6,745.9 383.9,743.0 385.3,740.1 386.6,737.3 388.0,734.4 389.3,731.5 390.7,728.7 392.0,725.8 393.4,722.9 394.8,720.1 396.1,717.2 397.5,714.3 398.8,711.5 400.2,708.6 401.6,705.7 402.9,702.9 404.3,700.0 405.7,697.2 407.1,694.3 408.4,691.5 409.8,688.6 411.2,685.7 412.6,682.9 414.0,680.0 415.3,677.2 416.7,674.3 418.1,671.5 419.5,668.6 420.9,665.8 422.3,663.0 423.7,660.1 425.1,657.3 426.5,654.4 427.9,651.6 429.3,648.8 430.7,645.9 432.1,643.1 433.6,640.2 435.0,637.4 436.4,634.6 437.8,631.8 439.3,628.9 440.7,626.1 442.1,623.3 443.6,620.4 445.0,617.6 446.4,614.8 447.9,612.0 449.3,609.2 450.8,606.4 452.3,603.5 453.7,600.7 455.2,597.9 456.6,595.1 458.1,592.3 459.6,589.5 461.1,586.7 462.5,583.9 464.0,581.1 465.5,578.3 467.0,575.5 468.5,572.7 470.0,569.9 471.5,567.1 473.0,564.3 474.5,561.6 476.0,558.8 477.6,556.0 479.1,553.2 480.6,550.4 482.1,547.7 483.7,544.9 485.2,542.1 486.8,539.4 488.3,536.6 489.9,533.8 491.4,531.1 493.0,528.3 494.5,525.6 496.1,522.8 497.7,520.1 499.3,517.3 500.9,514.6 502.5,511.8 504.0,509.1 505.6,506.4 507.3,503.6 508.9,500.9 510.5,498.2 512.1,495.4 513.7,492.7 515.3,490.0 517.0,487.3 518.6,484.6 520.3,481.8 521.9,479.1 523.6,476.4 525.3,473.7 526.9,471.0 528.6,468.4 530.3,465.7 532.0,463.0 533.7,460.3 535.4,457.7 537.1,455.0 538.9,452.4 540.6,449.7 542.4,447.1 544.1,444.5 545.9,441.8 547.7,439.2 549.5,436.6 551.3,434.0 553.1,431.5 555.0,428.9 556.8,426.3 558.7,423.8 560.5,421.2 562.4,418.7 564.3,416.2 566.2,413.7 568.2,411.2 570.1,408.7 572.0,406.2 574.0,403.8 576.0,401.3 578.0,398.9 580.0,396.4 582.1,394.0 584.1,391.6 586.2,389.3 588.3,386.9 590.4,384.6 592.5,382.2 594.6,379.9 596.8,377.6 598.9,375.3 601.1,373.0 603.3,370.8 605.6,368.5 607.8,366.3 610.1,364.1 612.4,361.9 614.7,359.8 617.0,357.6 619.4,355.5 621.8,353.4 624.2,351.3 626.6,349.2 629.0,347.2 631.5,345.1 634.0,343.1 636.5,341.1 639.0,339.2 641.6,337.2 644.2,335.3 646.8,333.4 649.4,331.5 652.1,329.7 654.8,327.9 657.5,326.1 660.2,324.3 662.9,322.6 665.7,321.0 668.5,319.4 671.3,317.8 674.2,316.3 677.0,314.9 679.9,313.5 682.8,312.2 685.7,310.9 688.6,309.8 691.6,308.7 694.6,307.6 697.6,306.7 700.6,305.9 703.6,305.1 706.6,304.4 709.7,303.7 712.8,303.1 715.9,302.6 719.0,302.1 722.1,301.7 725.2,301.3 728.3,301.0 731.4,300.7 734.6,300.4 737.7,300.2 740.9,299.9 744.0,299.7 747.2,299.5 750.3,299.3 753.5,299.1 756.6,298.9 759.8,298.7 762.9,298.5 766.1,298.3 769.3,298.1 772.4,297.9 775.6,297.7 778.7,297.5 781.9,297.3 785.1,297.0 788.2,296.8 791.4,296.6 794.5,296.4 797.7,296.2 800.9,296.0 804.0,295.7 807.2,295.5 810.3,295.3 813.5,295.1 816.7,294.9 819.8,294.6 823.0,294.4 826.1,294.2 829.3,294.0 832.5,293.8 835.6,293.5 838.8,293.3 841.9,293.1 845.1,292.9 848.3,292.6 851.4,292.4 854.6,292.2 857.8,292.0 860.9,291.8 864.1,291.5 867.2,291.3 870.4,291.1 873.6,290.9 876.7,290.7 879.9,290.4 883.1,290.2 886.2,290.0 889.4,289.8 892.5,289.6 895.7,289.4 898.9,289.2 902.0,288.9 905.2,288.7 908.4,288.5 911.5,288.3 914.7,288.1 917.9,287.9 921.0,287.7 924.2,287.5 927.4,287.3 930.5,287.1 933.7,286.9 936.8,286.7 940.0,286.5 943.2,286.3 946.3,286.2 949.5,286.0 952.7,285.8 955.8,285.6 959.0,285.4 962.2,285.3 965.3,285.1 968.5,284.9 971.7,284.8 974.8,284.6 978.0,284.4 981.2,284.3 984.3,284.1 987.5,284.0 990.7,283.8 993.8,283.7 997.0,283.5 1000.2,283.4 1003.3,283.2 1006.5,283.1 1009.7,283.0 1012.8,282.8 1016.0,282.7 1019.2,282.6 1022.3,282.5 1025.5,282.4 1028.7,282.3 1031.8,282.2 1035.0,282.0 1038.2,281.9 1041.3,281.8 1044.5,281.7 1047.7,281.6 1050.8,281.6 1054.0,281.5 1057.2,281.4 1060.4,281.3 1063.5,281.2 1066.7,281.1 1069.9,281.0 1073.0,281.0 1076.2,280.9 1079.4,280.8 1082.5,280.8 1085.7,280.7 1088.9,280.6 1092.0,280.6 1095.2,280.5 1098.4,280.4 1101.5,280.4 1104.7,280.3 1107.9,280.3 1111.1,280.2 1114.2,280.1 1117.4,280.1 1120.6,280.0 1123.7,280.0 1126.9,279.9 1130.1,279.9 1133.2,279.8 1136.4,279.8 1139.6,279.8 1142.7,279.7 1145.9,279.7 1149.1,279.6 1152.3,279.6 1155.4,279.5 1158.6,279.5 1161.8,279.5 1164.9,279.4 1168.1,279.4 1171.3,279.3 1174.4,279.3 1177.6,279.3 1180.8,279.2 1183.9,279.2 1187.1,279.1 1190.3,279.1 1193.5,279.1 1196.6,279.0 1199.8,279.0 1203.0,278.9 1206.1,278.9 1209.3,278.9 1212.5,278.8 1215.6,278.8 1218.8,278.7 1222.0,278.7 1225.1,278.7 1228.3,278.6 1231.5,278.6 1234.7,278.5 1237.8,278.5 1241.0,278.4 1244.2,278.4 1247.3,278.3 1250.5,278.3 1253.7,278.2 1256.8,278.2 1260.0,278.1 1263.2,278.1 1266.3,278.0 1269.5,277.9 1272.7,277.9 1275.8,277.8 1279.0,277.8 1282.2,277.7 1285.3,277.6 1288.5,277.6 1291.7,277.5 1294.8,277.4 1298.0,277.3 1301.2,277.3 1304.3,277.2 1307.5,277.1 1310.7,277.0 1313.8,276.9 1317.0,276.8 1320.2,276.7 1323.3,276.6 1326.5,276.6 1329.7,276.5 1332.8,276.3 1336.0,276.2 1339.2,276.1 1342.3,276.0 1345.5,275.9 1348.7,275.8 1351.8,275.7 1355.0,275.6 1358.2,275.4 1361.3,275.3 1364.5,275.2 1367.6,275.0 1370.8,274.9 1374.0,274.8 1377.1,274.6 1380.3,274.5 1383.5,274.3 1386.6,274.2 1389.8,274.0 1393.0,273.9 1396.1,273.7 1399.3,273.5 1402.4,273.4 1405.6,273.2 1408.8,273.0 1411.9,272.9 1415.1,272.7 1418.3,272.5 1421.4,272.3 1424.6,272.1 1427.7,272.0 1430.9,271.8 1434.1,271.6 1437.2,271.4 1440.4,271.2 1443.6,271.0 1446.7,270.8 1449.9,270.6 1453.0,270.4 1456.2,270.2 1459.4,270.0 1462.5,269.8 1465.7,269.6 1468.8,269.3 1472.0,269.1 1475.2,268.9 1478.3,268.7 1481.5,268.5 1484.6,268.2 1487.8,268.0 1491.0,267.8 1494.1,267.6 1497.3,267.3 1500.4,267.1 1503.6,266.9 1506.8,266.6 1509.9,266.4 1513.1,266.2 1516.2,265.9 1519.4,265.7 1522.6,265.4 1525.7,265.2 1528.9,264.9 1532.0,264.7 1535.2,264.5 1538.4,264.2 1541.5,263.9 1544.7,263.7 1547.8,263.4 1551.0,263.2 1554.2,262.9 1557.3,262.7 1560.5,262.4 1563.6,262.2 1566.8,261.9 1570.0,261.6 1573.1,261.4 1576.3,261.1 1579.4,260.8 1582.6,260.6 1585.7,260.3 1588.9,260.0 1592.1,259.8 1595.2,259.5 1598.4,259.2 1601.5,259.0 1604.7,258.7 1607.9,258.4 1611.0,258.2 1614.2,257.9 1617.3,257.6 1620.5,257.3 1623.6,257.1 1626.8,256.8 1630.0,256.5 1633.1,256.2 1636.3,256.0 1639.4,255.7 1642.6,255.4 1645.8,255.1 1648.9,254.9 1652.1,254.6 1655.2,254.3 1658.4,254.0 1661.5,253.8 1664.7,253.5 1667.9,253.2 1671.0,252.9 1674.2,252.6 1677.3,252.4 1680.5,252.1 1683.7,251.8 1686.8,251.5 1690.0,251.3 1693.1,251.0 1696.3,250.7 1699.4,250.4 1702.6,250.1 1705.8,249.9 1708.9,249.6 1712.1,249.3 1715.2,249.0 1718.4,248.8 1721.6,248.5 1724.7,248.2 1727.9,247.9 1731.0,247.7 1734.2,247.4 1737.4,247.1 1740.5,246.9 1743.7,246.6 1746.8,246.3 1750.0,246.0 1753.1,245.8 1756.3,245.5 1759.5,245.2 1762.6,245.0 1765.8,244.7 1768.9,244.5 1772.1,244.2 1775.3,243.9 1778.4,243.7 1781.6,243.4 1784.7,243.1 1787.9,242.9 1791.1,242.6 1794.2,242.4 1797.4,242.1 1800.5,241.9 1803.7,241.6 1806.9,241.4 1810.0,241.1 1813.2,240.9 1816.3,240.6 1819.5,240.4 1822.7,240.1 1825.8,239.9 1829.0,239.7 1832.1,239.4 1835.3,239.2 1838.5,238.9 1841.6,238.7 1844.8,238.5 1848.0,238.2 1851.1,238.0 1854.3,237.8 1857.4,237.6 1860.6,237.3 1863.8,237.1 1866.9,236.9 1870.1,236.7 1873.2,236.5 1876.4,236.2 1879.6,236.0 1882.7,235.8 1885.9,235.6 1889.1,235.4 1892.2,235.2 1895.4,235.0 1898.5,234.8 1901.7,234.6 1904.9,234.4 1908.0,234.2 1911.2,234.0 1914.4,233.8 1917.5,233.6 1920.7,233.5 1923.9,233.3 1927.0,233.1 1930.2,232.9 1933.3,232.7 1936.5,232.6 1939.7,232.4 1942.8,232.2 1946.0,232.1 1949.2,231.9 1952.3,231.8 1955.5,231.6 1958.7,231.4 1961.8,231.3 1965.0,231.2 1968.2,231.0 1971.3,230.9 1974.5,230.7 1977.7,230.6 1980.8,230.5 1984.0,230.3 1987.2,230.2 1990.3,230.1 1993.5,230.0 1996.7,229.8 1999.8,229.7 2003.0,229.6 2006.2,229.5 2009.3,229.4 2012.5,229.3 2015.7,229.2 2018.8,229.1 2022.0,229.0" fill="none" stroke="#dc1010" stroke-width="6" stroke-linejoin="round"/>
<path d="M250.0,1056.0L251.0,1053.0 252.0,1050.0 253.1,1047.0 254.1,1044.0 255.1,1041.0 256.2,1038.0 257.2,1035.0 258.2,1032.0 259.3,1029.0 260.4,1026.0 261.4,1023.0 262.5,1020.0 263.6,1017.0 264.6,1014.1 265.7,1011.1 266.8,1008.1 267.9,1005.1 269.0,1002.2 270.1,999.2 271.2,996.2 272.3,993.2 273.4,990.3 274.5,987.3 275.6,984.3 276.8,981.4 277.9,978.4 279.0,975.5 280.2,972.5 281.3,969.5 282.5,966.6 283.6,963.6 284.8,960.7 285.9,957.7 287.1,954.8 288.2,951.8 289.4,948.9 290.6,946.0 291.8,943.0 292.9,940.1 294.1,937.1 295.3,934.2 296.5,931.3 297.7,928.3 298.9,925.4 300.1,922.5 301.3,919.5 302.5,916.6 303.7,913.7 304.9,910.8 306.2,907.8 307.4,904.9 308.6,902.0 309.8,899.1 311.1,896.2 312.3,893.2 313.5,890.3 314.8,887.4 316.0,884.5 317.3,881.6 318.5,878.7 319.8,875.8 321.0,872.9 322.3,869.9 323.6,867.0 324.8,864.1 326.1,861.2 327.4,858.3 328.6,855.4 329.9,852.5 331.2,849.6 332.5,846.7 333.7,843.8 335.0,840.9 336.3,838.0 337.7,835.1 339.0,832.3 340.4,829.4 341.7,826.5 343.1,823.6 344.4,820.7 345.8,817.8 347.2,814.9 348.5,812.0 349.9,809.1 351.2,806.3 352.6,803.4 354.0,800.5 355.3,797.6 356.7,794.7 358.1,791.8 359.5,789.0 360.8,786.1 362.2,783.2 363.6,780.3 365.0,777.5 366.4,774.6 367.8,771.7 369.1,768.8 370.5,766.0 371.9,763.1 373.3,760.2 374.7,757.3 376.1,754.5 377.5,751.6 378.9,748.7 380.3,745.9 381.7,743.0 383.1,740.1 384.5,737.3 385.9,734.4 387.3,731.5 388.7,728.7 390.1,725.8 391.5,722.9 392.9,720.1 394.4,717.2 395.8,714.3 397.2,711.5 398.6,708.6 400.0,705.7 401.4,702.9 402.9,700.0 404.3,697.2 405.7,694.3 407.1,691.5 408.6,688.6 410.0,685.7 411.4,682.9 412.9,680.0 414.3,677.2 415.7,674.3 417.2,671.5 418.6,668.6 420.1,665.8 421.5,663.0 423.0,660.1 424.4,657.3 425.9,654.4 427.3,651.6 428.8,648.8 430.3,645.9 431.7,643.1 433.2,640.2 434.7,637.4 436.1,634.6 437.6,631.8 439.1,628.9 440.6,626.1 442.1,623.3 443.6,620.4 445.0,617.6 446.4,614.8 447.9,612.0 449.3,609.2 450.8,606.4 452.3,603.5 453.7,600.7" fill="none" stroke="#dc1010" stroke-width="6" stroke-linejoin="round"/>
<path d="M258.0,1056.0L259.0,1053.0 260.0,1050.0 261.1,1047.0 262.1,1044.0 263.1,1041.0 264.2,1038.0 265.2,1035.0 266.2,1032.0 267.3,1029.0 268.4,1026.0 269.4,1023.0 270.5,1020.0 271.6,1017.0 272.6,1014.1 273.7,1011.1 274.8,1008.1 275.9,1005.1 277.0,1002.2 278.1,999.2 279.2,996.2 280.3,993.2 281.4,990.3 282.5,987.3 283.6,984.3 284.8,981.4 285.9,978.4 287.0,975.5 288.2,972.5 289.3,969.5 290.5,966.6 291.6,963.6 292.8,960.7 293.9,957.7 295.1,954.8 296.2,951.8 297.4,948.9 298.6,946.0 299.8,943.0 300.9,940.1 302.1,937.1 303.3,934.2 304.5,931.3 305.7,928.3 306.9,925.4 308.1,922.5 309.3,919.5 310.5,916.6 311.7,913.7 312.9,910.8 314.2,907.8 315.4,904.9 316.6,902.0 317.8,899.1 319.1,896.2 320.3,893.2 321.5,890.3 322.8,887.4 324.0,884.5 325.3,881.6 326.5,878.7 327.8,875.8 329.0,872.9 330.3,869.9 331.6,867.0 332.8,864.1 334.1,861.2 335.4,858.3 336.6,855.4 337.9,852.5 339.2,849.6 340.5,846.7 341.7,843.8 343.0,840.9 344.3,838.0 345.5,835.1 346.8,832.3 348.0,829.4 349.2,826.5 350.5,823.6 351.7,820.7 353.0,817.8 354.2,814.9 355.5,812.0 356.8,809.1 358.0,806.3 359.3,803.4 360.5,800.5 361.8,797.6 363.1,794.7 364.3,791.8 365.6,789.0 366.9,786.1 368.2,783.2 369.4,780.3 370.7,777.5 372.0,774.6 373.3,771.7 374.6,768.8 375.8,766.0 377.1,763.1 378.4,760.2 379.7,757.3 381.0,754.5 382.3,751.6 383.6,748.7 384.9,745.9 386.2,743.0 387.5,740.1 388.8,737.3 390.1,734.4 391.4,731.5 392.7,728.7 394.0,725.8 395.3,722.9 396.6,720.1 397.9,717.2 399.2,714.3 400.5,711.5 401.8,708.6 403.1,705.7 404.4,702.9 405.8,700.0 407.1,697.2 408.4,694.3 409.7,691.5 411.1,688.6 412.4,685.7 413.7,682.9 415.0,680.0 416.4,677.2 417.7,674.3 419.0,671.5 420.4,668.6 421.7,665.8 423.1,663.0 424.4,660.1 425.8,657.3 427.1,654.4 428.5,651.6 429.8,648.8 431.2,645.9 432.6,643.1 433.9,640.2 435.3,637.4 436.7,634.6 438.0,631.8 439.4,628.9 440.8,626.1 442.2,623.3 443.6,620.4 445.0,617.6 446.4,614.8 447.9,612.0 449.3,609.2 450.8,606.4 452.3,603.5 453.7,600.7" fill="none" stroke="#dc1010" stroke-width="6" stroke-linejoin="round"/>
</g>
<path d="M401.2,1464.3V1450.8 M548.5,1464.3V1437.3 M695.9,1464.3V1450.8 M843.3,1464.3V1437.3 M990.7,1464.3V1450.8 M1138.0,1464.3V1437.3 M1285.4,1464.3V1450.8 M1432.8,1464.3V1437.3 M1580.2,1464.3V1450.8 M1727.5,1464.3V1437.3 M1874.9,1464.3V1450.8 M253.8,1335.0H281.8 M253.8,1205.7H267.3 M253.8,1076.4H281.8 M253.8,947.1H267.3 M253.8,817.8H281.8 M253.8,688.5H267.3 M253.8,559.2H281.8 M253.8,429.9H267.3 M253.8,300.6H281.8 M253.8,171.3H267.3" stroke="#000" stroke-width="9.5" fill="none"/>
<rect x="253.8" y="42.0" width="1768.5" height="1422.3" fill="none" stroke="#000" stroke-width="9.5"/>
<line x1="258" y1="1335.3" x2="282" y2="1335.3" stroke="#2394dc" stroke-width="5.5"/>
<text x="224.7" y="1355.0" text-anchor="end" class="tl">0</text>
<text x="224.7" y="1096.4" text-anchor="end" class="tl">20</text>
<text x="224.7" y="837.8" text-anchor="end" class="tl">40</text>
<text x="224.7" y="579.2" text-anchor="end" class="tl">60</text>
<text x="224.7" y="320.6" text-anchor="end" class="tl">80</text>
<text x="224.7" y="62.0" text-anchor="end" class="tl">100</text>
<text x="253.8" y="1547" text-anchor="middle" class="tl">200</text>
<text x="548.5" y="1547" text-anchor="middle" class="tl">300</text>
<text x="843.3" y="1547" text-anchor="middle" class="tl">400</text>
<text x="1138.0" y="1547" text-anchor="middle" class="tl">500</text>
<text x="1432.8" y="1547" text-anchor="middle" class="tl">600</text>
<text x="1727.5" y="1547" text-anchor="middle" class="tl">700</text>
<text x="2022.3" y="1547" text-anchor="middle" class="tl">800</text>
<text x="1138" y="1685.4" text-anchor="middle" class="at" style="letter-spacing:-0.45px">Wavelength(nm)</text>
<text transform="translate(88,752.4) rotate(-90)" x="0" y="0" text-anchor="middle" class="at" style="letter-spacing:-0.69px">Transmittance(%)</text>
<text x="723" y="896" class="an">A3</text>
<text x="982" y="780.2" class="an">AS1</text>
<text x="1254" y="673.9" class="an">AS2</text>
<text x="1493" y="646.7" class="an">AS3</text>
<line x1="751.5" y1="858.5" x2="657.7" y2="692.0" stroke="#333" stroke-width="1.7"/><polygon points="640.5,661.5 666.0,687.3 649.4,696.7" fill="#000"/>
<line x1="1023.0" y1="731.6" x2="812.9" y2="391.8" stroke="#333" stroke-width="1.7"/><polygon points="794.5,362.0 820.6,387.0 805.2,396.5" fill="#000"/>
<line x1="1298.8" y1="629.5" x2="1142.0" y2="312.3" stroke="#333" stroke-width="1.7"/><polygon points="1126.5,280.9 1150.1,308.3 1133.9,316.3" fill="#000"/>
<line x1="1534.5" y1="605.3" x2="1390.0" y2="273.1" stroke="#333" stroke-width="1.7"/><polygon points="1376.0,241.0 1398.2,269.5 1381.7,276.7" fill="#000"/>
<line x1="1420" y1="1053.8" x2="1575" y2="1053.8" stroke="#2394dc" stroke-width="5.5" stroke-dasharray="32 15 6 17"/>
<line x1="1420" y1="1137.3" x2="1560" y2="1137.3" stroke="#000" stroke-width="5.5" stroke-dasharray="12.3 13"/>
<line x1="1420" y1="1222" x2="1575" y2="1222" stroke="#dc1010" stroke-width="6"/>
<line x1="1420" y1="1306.2" x2="1560" y2="1306.2" stroke="#22c71f" stroke-width="5.5" stroke-dasharray="28 27"/>
<text x="1591" y="1076.8" class="lg">A3  :15at%<tspan dx="5"> Al</tspan></text>
<text x="1591" y="1161.3" class="lg">AS1:  5at% Sb</text>
<text x="1591" y="1244" class="lg">AS2:10at% Sb</text>
<text x="1591" y="1328.7" class="lg">AS3:15at% Sb</text>
</svg>
</body></html>
